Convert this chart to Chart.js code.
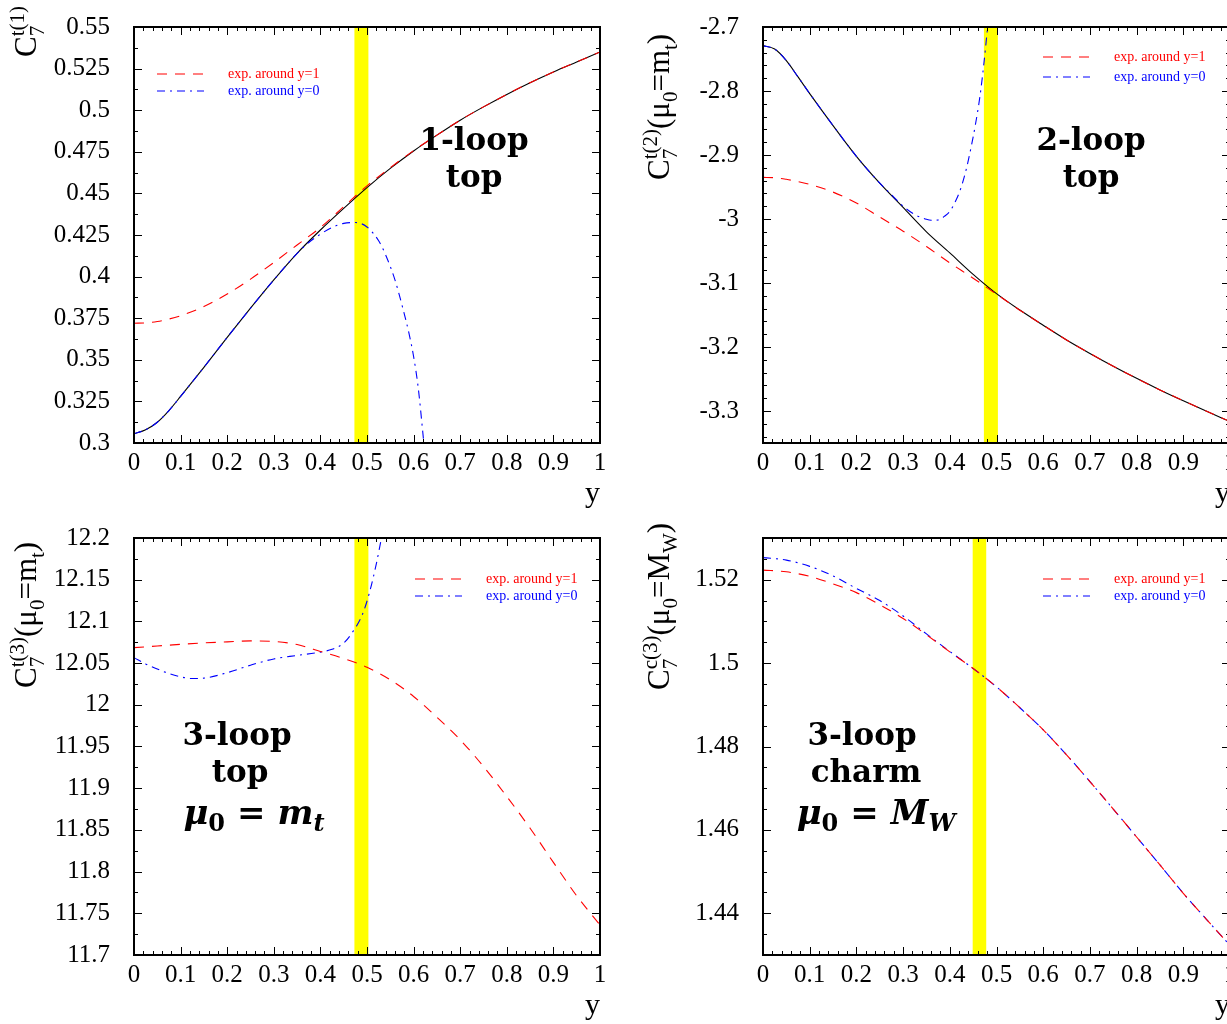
<!DOCTYPE html>
<html>
<head>
<meta charset="utf-8">
<title>C7 top and charm contributions</title>
<script src="https://cdn.jsdelivr.net/npm/chart.js@4.4.1/dist/chart.umd.min.js"></script>
<style>
  html, body { margin: 0; padding: 0; background: #fff; overflow: hidden; }
  body { width: 1227px; height: 1024px; position: relative; }
  canvas { position: absolute; }
</style>
</head>
<body>
<canvas id="top1" width="613" height="512" style="left:0;top:0"></canvas>
<canvas id="top2" width="630" height="512" style="left:613px;top:0"></canvas>
<canvas id="top3" width="613" height="512" style="left:0;top:512px"></canvas>
<canvas id="charm3" width="630" height="512" style="left:613px;top:512px"></canvas>
<script>
// sample points along y (0..1)
const ySamples = [0, 0.025, 0.05, 0.075, 0.1, 0.15, 0.2, 0.25, 0.3, 0.35, 0.4, 0.45, 0.5, 0.55, 0.6, 0.65, 0.7, 0.75, 0.8, 0.85, 0.9, 0.95, 1];
const xTickValues = [0, 0.1, 0.2, 0.3, 0.4, 0.5, 0.6, 0.7, 0.8, 0.9, 1];

// 1-loop top
const top1Exact   = [0.3055, 0.308, 0.3125, 0.3195, 0.328, 0.3455, 0.3635, 0.381, 0.398, 0.414, 0.428, 0.441, 0.4535, 0.465, 0.4755, 0.485, 0.494, 0.502, 0.5095, 0.5165, 0.523, 0.529, 0.535];
const top1NearOne = [0.372, 0.3722, 0.373, 0.3745, 0.3765, 0.382, 0.3895, 0.3985, 0.4085, 0.419, 0.4295, 0.442, 0.4545, 0.4655, 0.4757, 0.485, 0.494, 0.502, 0.5095, 0.5165, 0.523, 0.529, 0.535];
const top1NearZeroY = [0, 0.025, 0.05, 0.075, 0.1, 0.15, 0.2, 0.25, 0.3, 0.35, 0.375, 0.4, 0.425, 0.45, 0.475, 0.5, 0.525, 0.54, 0.56, 0.575, 0.59, 0.6, 0.61, 0.622];
const top1NearZero  = [0.3055, 0.308, 0.3125, 0.3195, 0.328, 0.3455, 0.3635, 0.381, 0.398, 0.414, 0.4205, 0.4255, 0.4295, 0.432, 0.4325, 0.4298, 0.4215, 0.413, 0.398, 0.383, 0.366, 0.352, 0.333, 0.3];
const top1Ticks = [0.3, 0.325, 0.35, 0.375, 0.4, 0.425, 0.45, 0.475, 0.5, 0.525, 0.55];

// 2-loop top, mu0 = mt
const top2Exact   = [-2.729, -2.7345, -2.7525, -2.778, -2.804, -2.854, -2.902, -2.944, -2.982, -3.020, -3.053, -3.0865, -3.1166, -3.1423, -3.166, -3.189, -3.210, -3.230, -3.249, -3.267, -3.284, -3.3005, -3.3165];
const top2NearOne = [-2.935, -2.9355, -2.938, -2.9415, -2.946, -2.958, -2.975, -2.997, -3.019, -3.043, -3.0685, -3.0925, -3.1175, -3.1425, -3.166, -3.189, -3.210, -3.230, -3.249, -3.267, -3.284, -3.3005, -3.3165];
const top2NearZeroY = [0, 0.025, 0.05, 0.075, 0.1, 0.15, 0.2, 0.25, 0.275, 0.3, 0.325, 0.35, 0.36, 0.375, 0.39, 0.4, 0.414, 0.425, 0.436, 0.445, 0.455, 0.465, 0.473, 0.481];
const top2NearZero  = [-2.729, -2.7345, -2.7525, -2.778, -2.804, -2.854, -2.902, -2.944, -2.962, -2.980, -2.993, -3.0005, -3.002, -3.0015, -2.995, -2.988, -2.9695, -2.949, -2.920, -2.89, -2.852, -2.806, -2.757, -2.70];
const top2Ticks = [-3.3, -3.2, -3.1, -3, -2.9, -2.8, -2.7];

// 3-loop top, mu0 = mt
const top3NearOne = [12.0685, 12.0695, 12.0705, 12.0715, 12.0725, 12.0742, 12.0755, 12.0766, 12.076, 12.0722, 12.064, 12.0555, 12.045, 12.03, 12.01, 11.985, 11.958, 11.926, 11.89, 11.852, 11.811, 11.771, 11.736];
const top3NearZeroY = [0, 0.025, 0.05, 0.075, 0.1, 0.125, 0.15, 0.2, 0.25, 0.3, 0.35, 0.4, 0.425, 0.45, 0.47, 0.49, 0.505, 0.52, 0.531];
const top3NearZero  = [12.0565, 12.049, 12.043, 12.0375, 12.0335, 12.0315, 12.032, 12.0385, 12.0475, 12.055, 12.0592, 12.0632, 12.0665, 12.074, 12.088, 12.108, 12.134, 12.169, 12.2];
const top3Ticks = [11.7, 11.75, 11.8, 11.85, 11.9, 11.95, 12, 12.05, 12.1, 12.15, 12.2];

// 3-loop charm, mu0 = MW
const charmY        = [0, 0.05, 0.1, 0.15, 0.2, 0.25, 0.3, 0.35, 0.4, 0.45, 0.5, 0.55, 0.6, 0.65, 0.7, 0.75, 0.8, 0.85, 0.9, 0.95, 1];
const charmNearOne  = [1.5223, 1.5219, 1.5208, 1.519, 1.5169, 1.514, 1.5107, 1.5068, 1.5027, 1.4987, 1.4943, 1.4893, 1.484, 1.478, 1.4716, 1.465, 1.4583, 1.4516, 1.4448, 1.4385, 1.4323];
const charmNearZero = [1.5253, 1.5247, 1.5232, 1.5209, 1.5179, 1.515, 1.5113, 1.507, 1.5028, 1.4987, 1.4943, 1.4893, 1.484, 1.478, 1.4716, 1.465, 1.4583, 1.4516, 1.4448, 1.4385, 1.4323];
const charmTicks = [1.44, 1.46, 1.48, 1.5, 1.52];

// matching region shaded in yellow
const topBand = [0.473, 0.503];
const charmBand = [0.449, 0.478];

const SERIF = '"Liberation Serif", "Times New Roman", serif';
const BOLD = '"DejaVu Serif", serif';
const RED = '#ff0000', BLUE = '#0000ff';
const LBL_ONE = 'exp. around y=1', LBL_ZERO = 'exp. around y=0';
const dashOne = [10, 8], dashZero = [8, 5, 2, 5];
const legendItems = [
  { label: LBL_ONE, color: RED, dash: dashOne },
  { label: LBL_ZERO, color: BLUE, dash: dashZero }
];

function pts(xs, ys) { return xs.map((x, i) => ({ x: x, y: ys[i] })); }
function fmt(v) { return String(+v.toFixed(4)); }

// rich text: plain runs plus stacked sub/superscripts
const M = '31px ' + SERIF, S = '21px ' + SERIF;
const NOTE = 'bold 31px ' + BOLD, MATH = 'bold italic 34px ' + BOLD, MSUB = 'bold 24px ' + BOLD, MSUBI = 'bold italic 24px ' + BOLD;

function coef(flavour, order, tail) {
  const parts = [{ t: 'C', f: M }, { stack: [{ t: '7', f: S, dy: 8 }, { t: flavour + '(' + order + ')', f: S, dy: -12 }] }];
  return tail ? parts.concat(tail) : parts;
}
const muTail = (m, sub) => [{ t: '(', f: M }, { t: 'μ', f: M }, { t: '0', f: S, dy: 8 }, { t: '=', f: M }, { t: m, f: M }, { t: sub, f: S, dy: 8 }, { t: ')', f: M }];

function richWidth(ctx, parts) {
  let w = 0;
  for (const p of parts) {
    if (p.stack) {
      w += Math.max(...p.stack.map(q => { ctx.font = q.f; return ctx.measureText(q.t).width; }));
    } else {
      ctx.font = p.f; w += ctx.measureText(p.t).width + (p.gap || 0);
    }
  }
  return w;
}
function drawRich(ctx, parts, x, y, opt) {
  ctx.save();
  ctx.translate(x, y);
  if (opt.rotate) ctx.rotate(-Math.PI / 2);
  ctx.fillStyle = '#000';
  ctx.textBaseline = 'alphabetic';
  ctx.textAlign = 'left';
  let cx = opt.center ? -richWidth(ctx, parts) / 2 : 0;
  for (const p of parts) {
    if (p.stack) {
      let w = 0;
      for (const q of p.stack) {
        ctx.font = q.f; ctx.fillText(q.t, cx, q.dy || 0);
        w = Math.max(w, ctx.measureText(q.t).width);
      }
      cx += w;
    } else {
      ctx.font = p.f; ctx.fillText(p.t, cx, p.dy || 0);
      cx += ctx.measureText(p.t).width + (p.gap || 0);
    }
  }
  ctx.restore();
}

// per-canvas decorations: band, frame ticks, legend, labels
const decor = {
  top1: {
    band: topBand, minorY: 0.0125,
    legend: { dx: 23, dy: 47, gap: 17 },
    title: { parts: coef('t', 1), x: 36, y: 57 },
    notes: [
      { parts: [{ t: '1-loop', f: NOTE }], x: 474, y: 150 },
      { parts: [{ t: 'top', f: NOTE }], x: 474, y: 187 }
    ]
  },
  top2: {
    band: topBand, minorY: 0.02,
    legend: { dx: 280, dy: 30, gap: 20 },
    title: { parts: coef('t', 2, muTail('m', 't')), x: 56, y: 180 },
    notes: [
      { parts: [{ t: '2-loop', f: NOTE }], x: 478, y: 150 },
      { parts: [{ t: 'top', f: NOTE }], x: 478, y: 187 }
    ]
  },
  top3: {
    band: topBand, minorY: 0.025,
    legend: { dx: 281, dy: 41, gap: 17 },
    title: { parts: coef('t', 3, muTail('m', 't')), x: 36, y: 176 },
    notes: [
      { parts: [{ t: '3-loop', f: NOTE }], x: 237, y: 233 },
      { parts: [{ t: 'top', f: NOTE }], x: 240, y: 270 },
      { parts: [{ t: 'μ', f: MATH }, { t: '0', f: MSUB, dy: 7, gap: 12 }, { t: '=', f: MATH, gap: 12 }, { t: 'm', f: MATH }, { t: 't', f: MSUBI, dy: 7 }], x: 254, y: 312 }
    ]
  },
  charm3: {
    band: charmBand, minorY: 0.005,
    legend: { dx: 280, dy: 41, gap: 17 },
    title: { parts: coef('c', 3, muTail('M', 'W')), x: 56, y: 178 },
    notes: [
      { parts: [{ t: '3-loop', f: NOTE }], x: 249, y: 233 },
      { parts: [{ t: 'charm', f: NOTE }], x: 253, y: 270 },
      { parts: [{ t: 'μ', f: MATH }, { t: '0', f: MSUB, dy: 7, gap: 12 }, { t: '=', f: MATH, gap: 12 }, { t: 'M', f: MATH }, { t: 'W', f: MSUBI, dy: 7 }], x: 263, y: 312 }
    ]
  }
};

const decorPlugin = {
  id: 'decor',
  beforeDatasetsDraw(chart) {
    const d = decor[chart.canvas.id];
    const { ctx, chartArea: a, scales: { x } } = chart;
    const x0 = x.getPixelForValue(d.band[0]), x1 = x.getPixelForValue(d.band[1]);
    ctx.save();
    ctx.fillStyle = '#ffff00';
    ctx.fillRect(x0, a.top, x1 - x0, a.bottom - a.top);
    ctx.restore();
  },
  afterDatasetsDraw(chart) {
    const d = decor[chart.canvas.id];
    const { ctx, chartArea: a } = chart;
    legendItems.forEach((it, i) => {
      const lx = Math.round(a.left + d.legend.dx), ly = Math.round(a.top + d.legend.dy + i * d.legend.gap);
      ctx.save();
      ctx.strokeStyle = it.color;
      ctx.lineWidth = 1.2;
      ctx.setLineDash(it.dash);
      ctx.beginPath(); ctx.moveTo(lx, ly); ctx.lineTo(lx + 47, ly); ctx.stroke();
      ctx.beginPath();
      ctx.setLineDash([]);
      ctx.fillStyle = it.color;
      ctx.font = '14px ' + SERIF;
      ctx.textBaseline = 'middle';
      ctx.fillText(it.label, lx + 71, ly);
      ctx.restore();
    });
    d.notes.forEach(n => drawRich(ctx, n.parts, n.x, n.y, { center: true }));
  },
  afterDraw(chart) {
    const d = decor[chart.canvas.id];
    const { ctx, chartArea: a, scales: { x, y } } = chart;
    ctx.save();
    ctx.strokeStyle = '#000';
    ctx.lineWidth = 1;
    ctx.setLineDash([]);
    ctx.beginPath();
    // ticks on all four sides, pointing inward
    const isMajor = (v, list) => list.some(t => Math.abs(t - v) < 1e-7);
    for (let k = 0; k <= 50; k++) {
      const v = k * 0.02, px = Math.round(x.getPixelForValue(v)) + 0.5;
      const len = isMajor(v, xTickValues) ? 8 : 4;
      ctx.moveTo(px, a.bottom); ctx.lineTo(px, a.bottom - len);
      ctx.moveTo(px, a.top); ctx.lineTo(px, a.top + len);
    }
    const yTicks = y.ticks.map(t => t.value);
    const start = Math.ceil(y.min / d.minorY - 1e-6);
    for (let k = start; k * d.minorY <= y.max + 1e-9; k++) {
      const v = k * d.minorY, py = Math.round(y.getPixelForValue(v)) + 0.5;
      const len = isMajor(v, yTicks) ? 8 : 4;
      ctx.moveTo(a.left, py); ctx.lineTo(a.left + len, py);
      ctx.moveTo(a.right, py); ctx.lineTo(a.right - len, py);
    }
    ctx.stroke();
    ctx.beginPath();
    ctx.lineWidth = 2;
    ctx.strokeRect(a.left, a.top, a.right - a.left, a.bottom - a.top);
    ctx.restore();
    drawRich(ctx, d.title.parts, d.title.x, d.title.y, { rotate: true });
  }
};
Chart.register(decorPlugin);

function lineSet(label, data, color, dash) {
  return {
    label: label, data: data, borderColor: color, backgroundColor: color,
    borderWidth: 1.1, borderDash: dash, pointRadius: 0, fill: false,
    cubicInterpolationMode: 'monotone'
  };
}

function makeChart(id, yRange, yTicks, yAxisWidth, padTop, datasets) {
  return new Chart(document.getElementById(id), {
    type: 'line',
    data: { datasets: datasets },
    options: {
      responsive: false,
      animation: false,
      devicePixelRatio: 1,
      layout: { padding: { left: 0, top: padTop, right: 13, bottom: 0 } },
      plugins: { legend: { display: false }, tooltip: { enabled: false } },
      scales: {
        x: {
          type: 'linear', min: 0, max: 1,
          afterBuildTicks: s => { s.ticks = xTickValues.map(v => ({ value: v })); },
          afterFit: s => { s.height = 69; s.paddingLeft = 0; s.paddingRight = 0; },
          grid: { display: false, drawTicks: false },
          border: { display: false },
          ticks: { color: '#000', font: { family: SERIF, size: 25 }, padding: 5, maxRotation: 0, autoSkip: false, callback: fmt },
          title: { display: true, text: 'y', align: 'end', color: '#000', font: { family: SERIF, size: 30 }, padding: 0 }
        },
        y: {
          type: 'linear', min: yRange[0], max: yRange[1],
          afterBuildTicks: s => { s.ticks = yTicks.map(v => ({ value: v })); },
          afterFit: s => { s.width = yAxisWidth; s.paddingTop = 0; s.paddingBottom = 0; },
          grid: { display: false, drawTicks: false },
          border: { display: false },
          ticks: { color: '#000', font: { family: SERIF, size: 25 }, padding: 24, autoSkip: false, callback: fmt }
        }
      }
    }
  });
}

makeChart('top1', [0.3, 0.55], top1Ticks, 134, 27, [
  lineSet(LBL_ONE, pts(ySamples, top1NearOne), RED, dashOne),
  lineSet(LBL_ZERO, pts(top1NearZeroY, top1NearZero), BLUE, dashZero),
  lineSet('exact', pts(ySamples, top1Exact), '#000', [])
]);
makeChart('top2', [-3.35, -2.7], top2Ticks, 150, 27, [
  lineSet(LBL_ONE, pts(ySamples, top2NearOne), RED, dashOne),
  lineSet(LBL_ZERO, pts(top2NearZeroY, top2NearZero), BLUE, dashZero),
  lineSet('exact', pts(ySamples, top2Exact), '#000', [])
]);
makeChart('top3', [11.7, 12.2], top3Ticks, 134, 26, [
  lineSet(LBL_ONE, pts(ySamples, top3NearOne), RED, dashOne),
  lineSet(LBL_ZERO, pts(top3NearZeroY, top3NearZero), BLUE, dashZero)
]);
makeChart('charm3', [1.43, 1.53], charmTicks, 150, 26, [
  lineSet(LBL_ONE, pts(charmY, charmNearOne), RED, dashOne),
  lineSet(LBL_ZERO, pts(charmY, charmNearZero), BLUE, dashZero)
]);
</script>
</body>
</html>
